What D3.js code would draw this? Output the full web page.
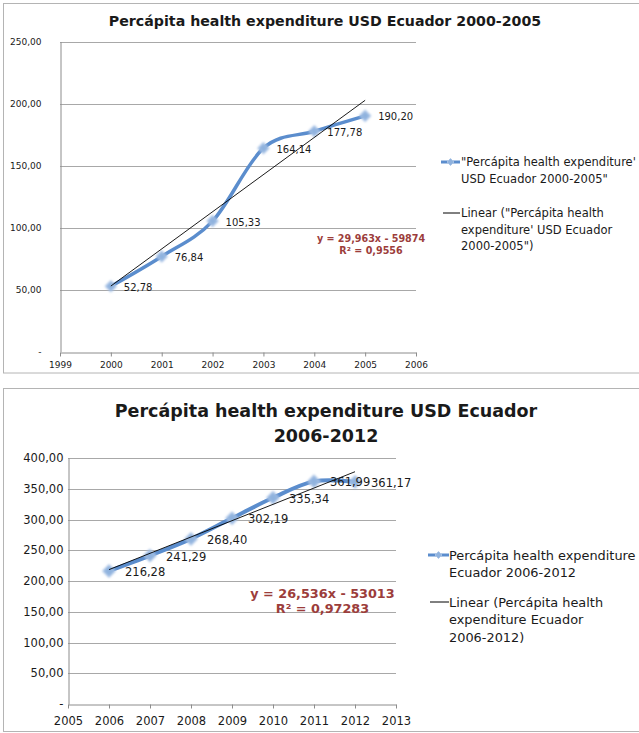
<!DOCTYPE html>
<html><head><meta charset="utf-8">
<script src="https://cdn.jsdelivr.net/npm/d3@7"></script>
<style>
body{margin:0;background:#fff}
svg{display:block}
text{font-family:"DejaVu Sans",sans-serif;fill:#1a1a1a}
</style>
</head><body>
<svg id="c" width="639" height="733"></svg>
<script>
// ---------- data ----------
const years1 = [2000, 2001, 2002, 2003, 2004, 2005];
const values1 = [52.78, 76.84, 105.33, 164.14, 177.78, 190.20];
const xTicks1 = [1999, 2000, 2001, 2002, 2003, 2004, 2005, 2006];
const yTicks1 = [0, 50, 100, 150, 200, 250];
const title1 = ["Percápita health expenditure USD Ecuador 2000-2005"];
const legendSeries1 = ["\"Percápita health expenditure'", "USD Ecuador 2000-2005\""];
const legendTrend1 = ["Linear (\"Percápita health", "expenditure' USD Ecuador", "2000-2005\")"];
const equation1 = ["y = 29,963x - 59874", "R² = 0,9556"];

const years2 = [2006, 2007, 2008, 2009, 2010, 2011, 2012];
const values2 = [216.28, 241.29, 268.40, 302.19, 335.34, 361.99, 361.17];
const xTicks2 = [2005, 2006, 2007, 2008, 2009, 2010, 2011, 2012, 2013];
const yTicks2 = [0, 50, 100, 150, 200, 250, 300, 350, 400];
const title2 = ["Percápita health expenditure USD Ecuador", "2006-2012"];
const legendSeries2 = ["Percápita health expenditure", "Ecuador 2006-2012"];
const legendTrend2 = ["Linear (Percápita health", "expenditure Ecuador", "2006-2012)"];
const equation2 = ["y = 26,536x - 53013", "R² = 0,97283"];

// ---------- drawing ----------
const svg = d3.select("#c");
const defs = svg.append("defs");
defs.append("filter").attr("id", "soft").attr("x", "-50%").attr("y", "-50%").attr("width", "200%").attr("height", "200%")
  .append("feGaussianBlur").attr("stdDeviation", 0.8);

const LINE = "#5b8dcd", MARK = "#8fb2de", GRID = "#a8a8a8", AXIS = "#8c8c8c", EQ = "#9c3d3b";
const fmtY = d => d === 0 ? "-" : d3.format(".2f")(d).replace(".", ",");
const fmtV = d => d3.format(".2f")(d).replace(".", ",");

function regression(xs, ys) {
  const mx = d3.mean(xs), my = d3.mean(ys);
  const num = d3.sum(xs, (x, i) => (x - mx) * (ys[i] - my));
  const den = d3.sum(xs, x => (x - mx) * (x - mx));
  const b = num / den;
  return x => my + b * (x - mx);
}

function drawChart(c) {
  const g = svg.append("g");
  g.append("rect").attr("x", c.frame[0]).attr("y", c.frame[1]).attr("width", c.frame[2]).attr("height", c.frame[3])
    .attr("fill", "#fff").attr("stroke", "#b4b4b4").attr("stroke-width", 1);

  const x = d3.scaleLinear().domain(d3.extent(c.xTicks)).range(c.xRange);
  const y = d3.scaleLinear().domain(d3.extent(c.yTicks)).range(c.yRange);

  // title
  c.title.forEach((t, i) => {
    g.append("text").attr("x", c.titleX).attr("y", c.titleY + i * c.titleLH)
      .attr("text-anchor", "middle").attr("dominant-baseline", "central")
      .style("font-weight", "bold").style("font-size", c.titleSize + "px").text(t);
  });

  // gridlines
  g.append("g").selectAll("line").data(c.yTicks.filter(d => d > 0)).join("line")
    .attr("x1", c.xRange[0]).attr("x2", c.xRange[1])
    .attr("y1", d => Math.round(y(d)) + 0.5).attr("y2", d => Math.round(y(d)) + 0.5)
    .attr("stroke", GRID).attr("stroke-width", 1);

  // y axis
  const ya = g.append("g").attr("transform", `translate(${Math.round(c.xRange[0]) + 0.5},0)`)
    .call(d3.axisLeft(y).tickValues(c.yTicks).tickFormat(fmtY).tickSize(0).tickSizeOuter(0).tickPadding(c.yPad));
  ya.select(".domain").attr("stroke", AXIS);
  ya.selectAll("text").style("font-size", c.tickSize + "px").attr("fill", "#222");

  // x axis
  const xa = g.append("g").attr("transform", `translate(0,${Math.round(c.yRange[0]) + 0.5})`)
    .call(d3.axisBottom(x).tickValues(c.xTicks).tickFormat(d3.format("d")).tickSize(4).tickSizeOuter(0).tickPadding(c.xPad));
  xa.select(".domain").attr("stroke", AXIS);
  xa.selectAll("line").attr("stroke", AXIS);
  xa.selectAll("text").style("font-size", c.tickSize + "px").attr("fill", "#222");

  // series line (smoothed)
  const pts = c.years.map((yr, i) => [x(yr), y(c.values[i])]);
  g.append("path").attr("d", d3.line().curve(d3.curveCardinal.tension(0))(pts))
    .attr("fill", "none").attr("stroke", LINE).attr("stroke-width", c.lineW).attr("stroke-linecap", "round");

  // markers
  const dm = d3.symbol().type(d3.symbolDiamond2).size(c.markSize);
  g.append("g").selectAll("path").data(pts).join("path")
    .attr("transform", d => `translate(${d[0]},${d[1]})`).attr("d", dm)
    .attr("fill", MARK).attr("stroke", "#a9c3e6").attr("stroke-width", 1.5).attr("filter", "url(#soft)");

  // trend line
  const f = regression(c.years, c.values);
  const x0 = d3.min(c.years), x1 = d3.max(c.years);
  g.append("line").attr("x1", x(x0)).attr("y1", y(f(x0))).attr("x2", x(x1)).attr("y2", y(f(x1)))
    .attr("stroke", "#000").attr("stroke-width", 0.9);

  // data labels
  g.append("g").selectAll("text").data(c.values).join("text")
    .attr("x", (d, i) => pts[i][0] + c.labelDx).attr("y", (d, i) => pts[i][1] + 1)
    .attr("dominant-baseline", "central").style("font-size", c.labelSize + "px").text(fmtV);

  // equation
  c.equation.forEach((t, i) => {
    g.append("text").attr("x", c.eqX).attr("y", c.eqY + i * c.eqLH).attr("text-anchor", "middle")
      .attr("dominant-baseline", "central").style("font-weight", "bold").style("font-size", c.eqSize + "px")
      .style("fill", EQ).text(t);
  });

  // legend
  const L = c.legend;
  g.append("line").attr("x1", L.x0).attr("x2", L.x1).attr("y1", L.y1).attr("y2", L.y1)
    .attr("stroke", LINE).attr("stroke-width", 3);
  g.append("path").attr("transform", `translate(${(L.x0 + L.x1) / 2},${L.y1})`)
    .attr("d", d3.symbol().type(d3.symbolDiamond2).size(30)).attr("fill", MARK).attr("stroke", "#a9c3e6");
  L.series.forEach((t, i) => g.append("text").attr("x", L.tx).attr("y", L.y1 + i * L.lh)
    .attr("dominant-baseline", "central").style("font-size", L.size + "px").text(t));
  g.append("line").attr("x1", L.x0 + 2).attr("x2", L.x1).attr("y1", L.y2).attr("y2", L.y2)
    .attr("stroke", "#000").attr("stroke-width", 1);
  L.trend.forEach((t, i) => g.append("text").attr("x", L.tx).attr("y", L.y2 + i * L.lh)
    .attr("dominant-baseline", "central").style("font-size", L.size + "px").text(t));
}

drawChart({
  frame: [3.5, 3.5, 700, 369.5],
  years: years1, values: values1, xTicks: xTicks1, yTicks: yTicks1,
  xRange: [60, 416], yRange: [351.7, 41.7],
  title: title1, titleX: 325, titleY: 21, titleLH: 0, titleSize: 14.2,
  tickSize: 9, yPad: 19, xPad: 5,
  lineW: 3.5, markSize: 70, labelDx: 13, labelSize: 10,
  equation: equation1, eqX: 371, eqY: 238, eqLH: 12, eqSize: 9.6,
  legend: { x0: 441, x1: 460, y1: 162, y2: 213, tx: 461, lh: 16.5, size: 11.5,
            series: legendSeries1, trend: legendTrend1 }
});

drawChart({
  frame: [3.5, 388.5, 700, 343],
  years: years2, values: values2, xTicks: xTicks2, yTicks: yTicks2,
  xRange: [68, 396], yRange: [704, 458],
  title: title2, titleX: 326, titleY: 411, titleLH: 25, titleSize: 17.5,
  tickSize: 11.5, yPad: 5, xPad: 8,
  lineW: 4, markSize: 90, labelDx: 16, labelSize: 11.5,
  equation: equation2, eqX: 322.5, eqY: 593, eqLH: 15, eqSize: 12.8,
  legend: { x0: 428, x1: 449, y1: 555, y2: 602, tx: 449, lh: 17.5, size: 12.9,
            series: legendSeries2, trend: legendTrend2 }
});
</script>
</body></html>
